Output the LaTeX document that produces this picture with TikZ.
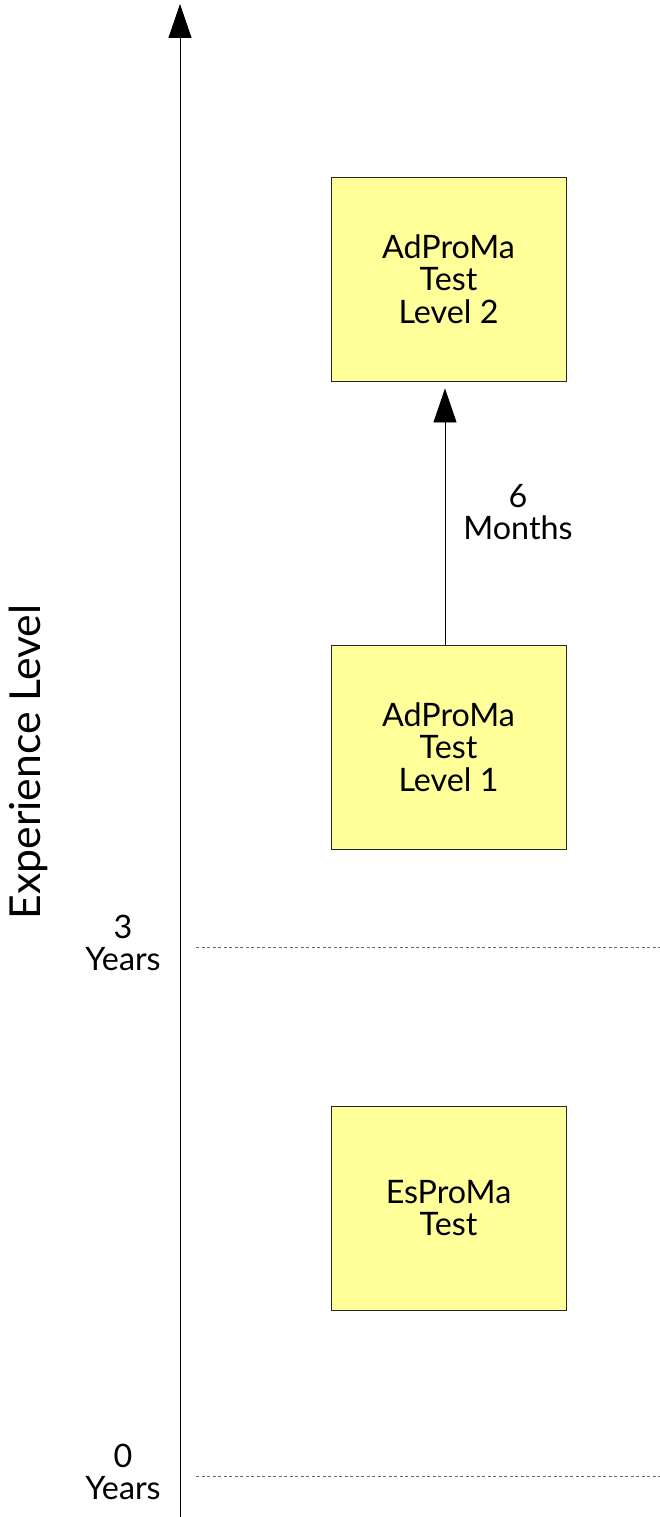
\documentclass[tikz,border=0pt]{standalone}
\usepackage{fontspec}
\setmainfont{Lato}
\usetikzlibrary{arrows.meta}
\definecolor{boxfill}{HTML}{FFFF99}
\definecolor{dashgrey}{HTML}{666666}
\tikzset{
  testbox/.style={draw=black!85, line width=0.9pt, fill=boxfill, minimum width=235pt, minimum height=204pt, inner sep=0pt, align=center, font=\fontsize{32.3}{32.5}\selectfont},
  lbl/.style={align=center, inner sep=0pt, font=\fontsize{32.3}{32.5}\selectfont},
  bigtip/.style={-{Triangle[length=34pt,width=23pt]}},
  gridline/.style={draw=dashgrey, line width=0.9pt, dash pattern=on 3pt off 2.5pt},
}
\begin{document}
\begin{tikzpicture}[x=1pt,y=-1pt]
\useasboundingbox (0,0) rectangle (660,1517);
% axis
\coordinate (axbot) at (180,1517);
\coordinate (axtop) at (180,4);
\draw[line width=0.9pt, bigtip] (axbot) -- (axtop);
% dashed year lines
\coordinate (d3a) at (196,947);
\coordinate (d3b) at (660,947);
\coordinate (d0a) at (196,1476);
\coordinate (d0b) at (660,1476);
\draw[gridline] (d3a) -- (d3b);
\draw[gridline] (d0a) -- (d0b);
% year labels
\node[lbl] (y3) at (123,943) {3\\Years};
\node[lbl] (y0) at (123,1472) {0\\Years};
% axis title
\node[rotate=90, inner sep=0pt, font=\fontsize{42.7}{50}\selectfont] (title) at (28,762) {Experience Level};
% boxes
\node[testbox] (lv2) at (448.5,279) {AdProMa\\Test\\Level 2};
\node[testbox] (lv1) at (448.5,747) {AdProMa\\Test\\Level 1};
\node[testbox] (es) at (448.5,1208) {EsProMa\\Test};
% connector
\coordinate (cx) at (445,0);
\draw[line width=0.9pt, bigtip, shorten >=7pt] (lv1.north -| cx) -- (lv2.south -| cx);
\node[lbl] (months) at (518,512) {6\\Months};
\end{tikzpicture}
\end{document}
